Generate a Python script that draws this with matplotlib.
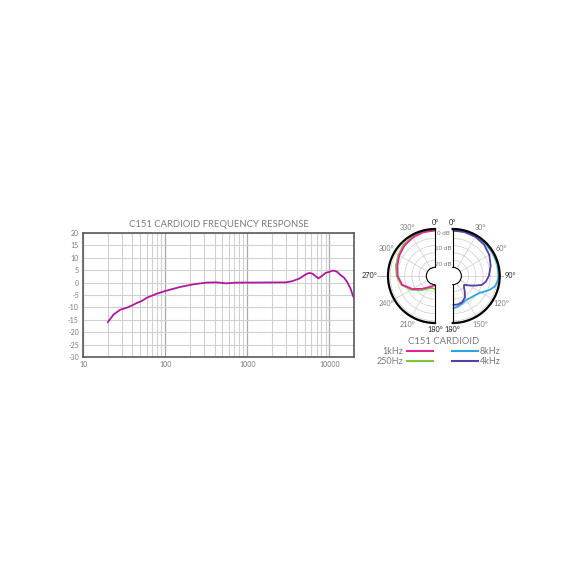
import numpy as np
import matplotlib.pyplot as plt
from matplotlib.lines import Line2D
from matplotlib.ticker import FixedLocator

plt.rcParams['font.family'] = ['Lato', 'DejaVu Sans']

# frequency response (Hz, dB)
freq_hz = [20, 23.7, 28.6, 34.4, 39.5, 45.4, 52, 60, 79, 100, 151, 220, 319,
           422, 557, 736, 1000, 2965, 3565, 4294, 5176, 5678, 6250, 6840,
           7380, 8220, 9000, 10000, 10870, 11400, 12530, 13750, 15100,
           16550, 18150, 19500, 20000]
resp_db = [-16.0, -12.8, -10.9, -10.1, -9.2, -8.2, -7.4, -6.1, -4.5, -3.4,
           -1.8, -0.7, 0.0, 0.1, -0.3, 0.0, 0.0, 0.1, 0.6, 1.6, 3.3, 3.9,
           3.6, 2.5, 1.7, 2.8, 3.9, 4.3, 4.8, 4.8, 4.3, 3.0, 2.0, 0.2,
           -2.4, -5.5, -6.0]
freq_ticks = [10, 100, 1000, 10000]
db_ticks = [20, 15, 10, 5, 0, -5, -10, -15, -20, -25, -30]

# polar pattern, left half (180..360 deg)
ang_left = [180, 195, 210, 225, 240, 255, 270, 285, 300, 315, 330, 345, 360]
db_250 = [-21.8, -22.5, -21.0, -17.0, -12.0, -7.0, -4.5, -3.0, -1.8, -0.3,
          0.5, 0.8, 0.8]
db_1k = [-24.5, -23.8, -22.0, -18.5, -13.0, -7.5, -5.2, -4.0, -2.5, -1.2,
         -0.3, 0.3, 0.5]

# polar pattern, right half (0..180 deg)
ang_8k = [0, 15, 30, 45, 60, 75, 90, 97, 104, 110, 116, 122, 130, 140, 150,
          160, 170, 180]
db_8k = [0.5, 0.7, 1.0, 1.0, 1.0, 1.0, 0.8, 0.2, -1.0, -3.5, -6.5, -9.0,
         -10.5, -11.5, -12.0, -11.0, -9.5, -8.5]
ang_4k = [0, 15, 30, 45, 60, 75, 90, 100, 107, 113, 120, 128, 135, 142, 150,
          160, 170, 180]
db_4k = [0.5, 0.5, 0.3, -0.3, -1.8, -3.8, -6.0, -7.8, -10.0, -14.0, -18.0,
         -21.0, -20.0, -17.5, -14.0, -11.8, -11.0, -11.0]

GREY = '#7a7a7a'
C_RESP = '#b0199c'
C_1K = '#e0259b'
C_250 = '#7cc63a'
C_8K = '#29a6e0'
C_4K = '#5a3ea5'

W = 584
fig = plt.figure(figsize=(W / 100, W / 100), dpi=100)


def px(x0, y0, x1, y1):
    # pixel box (top-left origin) -> figure fraction rect
    return [x0 / W, (W - y1) / W, (x1 - x0) / W, (y1 - y0) / W]


# --- frequency response ---
ax = fig.add_axes(px(83, 233, 354, 357))
ax.plot(freq_hz, resp_db, color=C_RESP, lw=1.3, solid_capstyle='round')
ax.set_xscale('log')
ax.set_xlim(10, 20000)
ax.set_ylim(-30, 20)
ax.xaxis.set_major_locator(FixedLocator(freq_ticks))
ax.xaxis.set_minor_locator(FixedLocator(
    [m * d for d in (10, 100, 1000) for m in range(2, 10)] + [20000]))
ax.set_xticklabels([str(f) for f in freq_ticks])
ax.set_yticks(db_ticks)
ax.set_yticklabels([str(v) for v in db_ticks])
ax.grid(True, which='major', axis='x', color='#a8a8a8', lw=0.9)
ax.grid(True, which='minor', axis='x', color='#d0d0d0', lw=0.8)
ax.grid(True, which='major', axis='y', color='#d0d0d0', lw=0.8)
ax.set_axisbelow(True)
ax.tick_params(which='both', length=0, labelsize=5, colors=GREY, pad=3)
for s in ax.spines.values():
    s.set_color('#5a5a5a')
    s.set_linewidth(1.2)
ax.set_title('C151 CARDIOID FREQUENCY RESPONSE', fontsize=6.8, color=GREY,
             pad=4)


# --- polar halves ---
# radial label distance (in dB units past the rim) per angle
LABEL_R = {0: 5.8, 180: 5.8, 90: 9.0, 270: 14.5}


def half_polar(rect, tmin, tmax, ticks):
    pa = fig.add_axes(rect, projection='polar')
    pa.set_theta_zero_location('N')
    pa.set_theta_direction(-1)
    pa.set_thetamin(tmin)
    pa.set_thetamax(tmax)
    pa.set_rorigin(-31)
    pa.set_ylim(-25, 1.5)
    pa.set_yticks([-20, -15, -10, -5, 0])
    pa.yaxis.set_ticklabels([''] * 5)
    pa.set_xticks(np.radians(ticks))
    pa.set_xticklabels([''] * len(ticks))
    pa.tick_params(axis='x', length=0)
    pa.grid(True, color='#cccccc', lw=0.5)
    pa.spines['polar'].set_color('black')
    pa.spines['polar'].set_linewidth(1.6)
    for k in ('start', 'end', 'inner'):
        pa.spines[k].set_visible(False)
    for t in ticks:
        deg = t % 360
        main = deg in (0, 90, 180, 270)
        r = LABEL_R.get(deg, 7.7)
        pa.text(np.radians(t), r, f'{deg}°', fontsize=5.2,
                color='#222222' if main else GREY, ha='center',
                va='center', clip_on=False)
        if deg in (90, 270):
            pa.plot([np.radians(t)] * 2, [1.5, r - (5.5 if deg == 270 else 5.0)],
                    color='#aaaaaa', lw=0.6, clip_on=False)
    return pa


R = 47
cy = 276
cx_left, cx_right = 435, 452.7
# the half disc is centred inside a square box of side 2R
bl = cx_left - R / 2 - R
br = cx_right + R / 2 - R
axl = half_polar(px(bl, cy - R, bl + 2 * R, cy + R), 180, 360,
                 [180, 210, 240, 270, 300, 330, 360])
axr = half_polar(px(br, cy - R, br + 2 * R, cy + R), 0, 180,
                 [0, 30, 60, 90, 120, 150, 180])

axl.plot(np.radians(ang_left), db_250, color=C_250, lw=1.3)
axl.plot(np.radians(ang_left), db_1k, color=C_1K, lw=1.3)
axr.plot(np.radians(ang_8k), db_8k, color=C_8K, lw=1.3)
axr.plot(np.radians(ang_4k), db_4k, color=C_4K, lw=1.3)

for lab, y in (('0 dB', 234), ('10 dB', 249), ('20 dB', 264)):
    fig.text(443.5 / W, 1 - y / W, lab, fontsize=4.5, color=GREY,
             ha='center', va='center')

fig.text(444 / W, 1 - 341 / W, 'C151 CARDIOID', fontsize=6.8, color=GREY,
         ha='center', va='center')

legend_rows = [('1kHz', C_1K, '8kHz', C_8K, 351),
               ('250Hz', C_250, '4kHz', C_4K, 361)]
for ltxt, lcol, rtxt, rcol, y in legend_rows:
    yf = 1 - y / W
    fig.text(403 / W, yf, ltxt, fontsize=6.5, color=GREY, ha='right',
             va='center')
    fig.add_artist(Line2D([407 / W, 433 / W], [yf, yf], color=lcol, lw=1.5))
    fig.add_artist(Line2D([452 / W, 478 / W], [yf, yf], color=rcol, lw=1.5))
    fig.text(480 / W, yf, rtxt, fontsize=6.5, color=GREY, ha='left',
             va='center')

fig.savefig('out.png', dpi=100)
